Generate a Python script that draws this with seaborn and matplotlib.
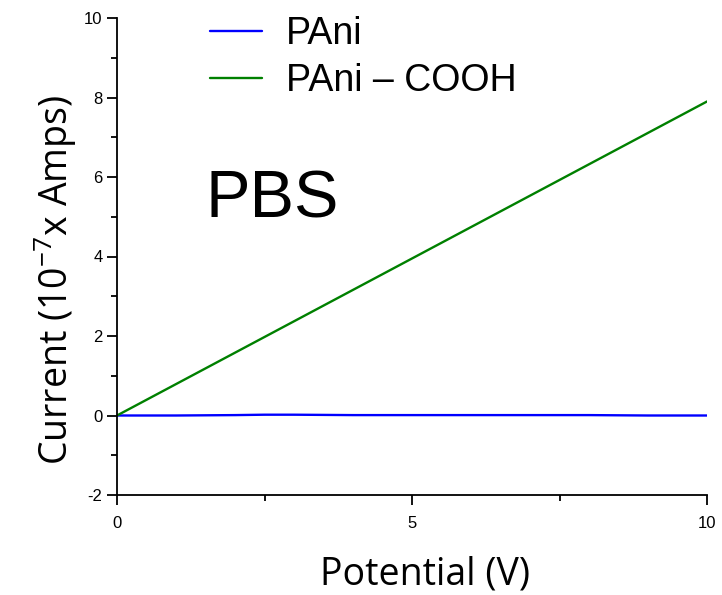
import matplotlib
matplotlib.use("Agg")
import matplotlib.pyplot as plt
import seaborn as sns
import pandas as pd
from matplotlib.ticker import MultipleLocator

sns.set_theme(style="ticks")
plt.rcParams['mathtext.default'] = 'regular'
plt.rcParams['axes.unicode_minus'] = False

# Data
pani_x = [0, 1, 2, 2.5, 3, 4, 5, 6, 7, 8, 9, 10]
pani_y = [0, 0, 0.01, 0.02, 0.02, 0.01, 0.01, 0.01, 0.01, 0.01, 0.0, 0.0]
cooh_x = [0, 10]
cooh_y = [0, 7.9]
series_names = ["PAni", "PAni \u2013 COOH"]
colors = ["#0000ff", "#008000"]

df = pd.concat([
    pd.DataFrame({"x": pani_x, "y": pani_y, "s": series_names[0]}),
    pd.DataFrame({"x": cooh_x, "y": cooh_y, "s": series_names[1]}),
])

fig = plt.figure(figsize=(7.22, 5.95), dpi=100)
ax = fig.add_axes([117/722, 1 - 495/595, (707-117)/722, (495-18)/595])

sns.lineplot(data=df, x="x", y="y", hue="s", palette=colors, ax=ax,
             linewidth=1.7, legend=True)

ax.set_xlim(0, 10)
ax.set_ylim(-2, 10)
ax.xaxis.set_major_locator(MultipleLocator(5))
ax.xaxis.set_minor_locator(MultipleLocator(2.5))
ax.yaxis.set_major_locator(MultipleLocator(2))
ax.yaxis.set_minor_locator(MultipleLocator(1))
ax.tick_params(which="major", direction="out", length=7, width=1.3, color="black",
               labelsize=12, labelcolor="black")
ax.tick_params(axis="x", which="major", pad=8)
ax.tick_params(which="minor", direction="out", length=4, width=1.3, color="black")
for lab in ax.get_xticklabels() + ax.get_yticklabels():
    lab.set_fontfamily("Liberation Sans")
for s in ["top", "right"]:
    ax.spines[s].set_visible(False)
for s in ["left", "bottom"]:
    ax.spines[s].set_color("black")
    ax.spines[s].set_linewidth(1.3)
ax.set_facecolor("white")

ax.set_xlabel("Potential (V)", fontsize=27, fontfamily="Open Sans", color="black")
ax.set_ylabel("Current (10$^{-7}$x Amps)", fontsize=27, fontfamily="Open Sans", color="black")
ax.xaxis.set_label_coords((425-117)/590, -(574-495)/477, transform=ax.transAxes)
ax.yaxis.set_label_coords(-(117-55)/590, (495-280)/477, transform=ax.transAxes)
ax.xaxis.label.set_va("center")
ax.yaxis.label.set_va("center")

ax.text(0.15, (495-218)/477, "PBS", transform=ax.transAxes, fontsize=48,
        fontfamily="Liberation Sans", color="black", va="baseline")

leg = ax.legend(loc="upper left", bbox_to_anchor=(0.10, 1.075), frameon=False,
                handlelength=1.4, handletextpad=0.62, labelspacing=0.3,
                prop={"family": "Liberation Sans", "size": 27})
for t in leg.get_texts():
    t.set_color("black")

fig.savefig("out.png", dpi=100, facecolor="white")
